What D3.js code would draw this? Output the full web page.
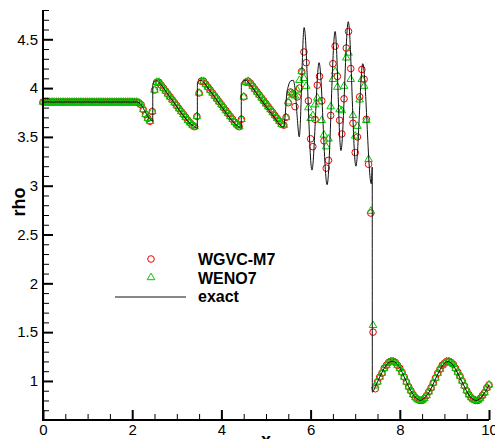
<!DOCTYPE html>
<html>
<head>
<meta charset="utf-8">
<script src="https://cdn.jsdelivr.net/npm/d3@7"></script>
<style>
  html, body { margin: 0; padding: 0; background: #fff; overflow: hidden; }
  svg { display: block; }
</style>
</head>
<body>
<svg id="chart" width="495" height="439"></svg>
<script>
// Density profile rho(x): reference solution plus two numerical schemes on a uniform 201-point grid.

const gridStart = 0;
const gridStep = 0.05;

// WGVC-M7 samples, x = 0, 0.05, ..., 10
const wgvcRho = [
  3.857,3.857,3.857,3.857,3.857,3.857,3.857,3.857,3.857,3.857,
  3.857,3.857,3.857,3.857,3.857,3.857,3.857,3.857,3.857,3.857,
  3.857,3.857,3.857,3.857,3.857,3.857,3.857,3.857,3.857,3.857,
  3.857,3.857,3.857,3.857,3.857,3.857,3.857,3.857,3.857,3.857,
  3.857,3.857,3.857,
  3.85,3.83,3.78,3.73,3.69,3.66,3.76,3.98,4.06,
  4.06,4.03,4.00,3.97,3.94,3.91,3.88,3.85,3.82,3.79,3.76,3.73,3.70,3.67,3.645,3.62,3.605,
  3.71,3.95,4.07,
  4.07,4.04,4.01,3.98,3.95,3.92,3.89,3.86,3.83,3.80,3.77,3.74,3.71,3.68,3.65,3.625,3.605,
  3.68,3.91,4.06,
  4.07,4.05,4.02,3.99,3.96,3.93,3.90,3.87,3.84,3.81,3.78,3.75,3.72,3.69,3.66,3.63,3.62,
  3.70,3.85,3.96,3.94,3.81,3.91,4.00,4.17,4.37,4.26,
  3.87,3.48,3.40,3.68,4.03,4.12,3.87,3.46,3.18,3.26,
  3.72,4.25,4.43,4.12,3.67,3.53,3.89,4.41,4.58,4.20,
  3.64,3.34,3.50,3.91,4.19,4.09,3.68,3.22,2.72,1.50,
  0.92,
  0.99,1.04,1.08,1.13,1.16,1.19,1.20,1.20,1.19,1.16,1.13,1.09,1.04,0.99,0.94,0.90,0.86,0.83,0.81,0.80,0.80,0.82,0.85,0.89,0.93,
  0.98,1.03,1.08,1.12,1.16,1.18,1.20,1.20,1.19,1.17,1.13,1.09,1.05,1.00,0.95,0.90,0.86,0.83,0.81,0.80,0.80,0.82,0.85,0.88,0.93,0.96
];

// WENO7 samples on the same grid
const weno7Rho = [
  3.857,3.857,3.857,3.857,3.857,3.857,3.857,3.857,3.857,3.857,
  3.857,3.857,3.857,3.857,3.857,3.857,3.857,3.857,3.857,3.857,
  3.857,3.857,3.857,3.857,3.857,3.857,3.857,3.857,3.857,3.857,
  3.857,3.857,3.857,3.857,3.857,3.857,3.857,3.857,3.857,3.857,
  3.857,3.857,3.857,
  3.85,3.83,3.78,3.73,3.69,3.66,3.76,3.98,4.06,
  4.06,4.03,4.00,3.97,3.94,3.91,3.88,3.85,3.82,3.79,3.76,3.73,3.70,3.67,3.645,3.62,3.605,
  3.71,3.95,4.07,
  4.07,4.04,4.01,3.98,3.95,3.92,3.89,3.86,3.83,3.80,3.77,3.74,3.71,3.68,3.65,3.625,3.605,
  3.68,3.91,4.06,
  4.07,4.05,4.02,3.99,3.96,3.93,3.90,3.87,3.84,3.81,3.78,3.75,3.72,3.69,3.66,3.63,3.62,
  3.70,3.86,3.95,3.93,3.92,3.98,4.08,4.17,4.10,4.02,
  3.80,3.69,3.72,3.83,3.90,3.86,3.67,3.52,3.40,3.48,
  3.81,4.09,4.17,4.01,3.78,3.77,4.02,4.31,4.36,4.09,
  3.72,3.51,3.61,3.88,4.09,4.02,3.67,3.27,2.74,1.57,
  0.95,
  0.99,1.04,1.08,1.13,1.16,1.19,1.20,1.20,1.19,1.16,1.13,1.09,1.04,0.99,0.94,0.90,0.86,0.83,0.81,0.80,0.80,0.82,0.85,0.89,0.93,
  0.98,1.03,1.08,1.12,1.16,1.18,1.20,1.20,1.19,1.17,1.13,1.09,1.05,1.00,0.95,0.90,0.86,0.83,0.81,0.80,0.80,0.82,0.85,0.88,0.93,0.96
];

// Reference ("exact") solution, knot points
const exactX = [
  0, 2.10, 2.20, 2.30, 2.38, 2.44, 2.46, 2.462, 2.50, 2.55, 2.62, 2.75, 3.00, 3.25, 3.38, 3.46,
  3.462, 3.50, 3.55, 3.62, 3.75, 4.00, 4.25, 4.37, 4.445,
  4.447, 4.50, 4.55, 4.62, 4.75, 5.00, 5.20, 5.32, 5.39,
  5.43, 5.46, 5.50, 5.56, 5.61, 5.66, 5.70, 5.745,
  5.855, 6.03, 6.19, 6.37, 6.55, 6.68, 6.845, 7.015, 7.17, 7.36, 7.382, 7.384,
  7.45, 7.55, 7.65, 7.73, 7.83, 7.93, 8.01, 8.10, 8.20, 8.30, 8.38, 8.46, 8.54, 8.62, 8.72,
  8.82, 8.91, 9.00, 9.08, 9.16, 9.25, 9.34, 9.44, 9.53, 9.62, 9.71, 9.80, 9.89, 10.0
];
const exactRho = [
  3.857, 3.857, 3.83, 3.75, 3.69, 3.665, 3.66, 4.04, 4.07, 4.075, 4.05, 3.97, 3.81, 3.66, 3.61, 3.59,
  4.05, 4.075, 4.08, 4.05, 3.97, 3.81, 3.66, 3.61, 3.59,
  4.05, 4.075, 4.08, 4.05, 3.97, 3.81, 3.69, 3.62, 3.60,
  3.72, 3.92, 4.02, 4.075, 4.08, 3.95, 3.70, 3.50,
  4.62, 3.16, 4.26, 3.01, 4.58, 3.36, 4.68, 3.20, 4.25, 3.02, 3.19, 0.885,
  0.94, 1.04, 1.13, 1.18, 1.20, 1.18, 1.13, 1.04, 0.94, 0.86, 0.82, 0.80, 0.82, 0.86, 0.94,
  1.04, 1.12, 1.18, 1.20, 1.18, 1.12, 1.04, 0.95, 0.87, 0.82, 0.80, 0.82, 0.87, 0.96
];

const xTicks = [0, 2, 4, 6, 8, 10];
const xMinorTicks = [0.5, 1, 1.5, 2.5, 3, 3.5, 4.5, 5, 5.5, 6.5, 7, 7.5, 8.5, 9, 9.5];
const yTicks = [1, 1.5, 2, 2.5, 3, 3.5, 4, 4.5];
const yMinorTicks = [0.7, 0.8, 0.9, 1.1, 1.2, 1.3, 1.4, 1.6, 1.7, 1.8, 1.9, 2.1, 2.2, 2.3, 2.4,
  2.6, 2.7, 2.8, 2.9, 3.1, 3.2, 3.3, 3.4, 3.6, 3.7, 3.8, 3.9, 4.1, 4.2, 4.3, 4.4, 4.6, 4.7, 4.8];

const seriesNames = ["WGVC-M7", "WENO7", "exact"];
const circleColor = "#f00000";
const triangleColor = "#00c800";

const svg = d3.select("#chart");
const font = "'Liberation Sans', Arial, sans-serif";

const x = d3.scaleLinear().domain([0, 10]).range([43, 489]);
const y = d3.scaleLinear().domain([0.6, 4.8]).range([420, 10]);

const gridX = wgvcRho.map((_, i) => gridStart + i * gridStep);

// --- markers ---
const gCircles = svg.append("g");
gCircles.selectAll("circle")
  .data(wgvcRho)
  .join("circle")
  .attr("cx", (d, i) => x(gridX[i]))
  .attr("cy", d => y(d))
  .attr("r", 3.3)
  .attr("fill", "none")
  .attr("stroke", circleColor)
  .attr("stroke-width", 1);

const tri = d3.symbol(d3.symbolTriangle, 25);
const gTri = svg.append("g");
gTri.selectAll("path")
  .data(weno7Rho)
  .join("path")
  .attr("transform", (d, i) => `translate(${x(gridX[i])},${y(d)})`)
  .attr("d", tri)
  .attr("fill", "none")
  .attr("stroke", triangleColor)
  .attr("stroke-width", 1);

// --- exact line ---
const line = d3.line()
  .x(d => x(d[0]))
  .y(d => y(d[1]))
  .curve(d3.curveMonotoneX);
svg.append("path")
  .datum(exactX.map((v, i) => [v, exactRho[i]]))
  .attr("d", line)
  .attr("fill", "none")
  .attr("stroke", "#111")
  .attr("stroke-width", 1);

// --- axes ---
function styleAxis(g, width) {
  g.select(".domain").remove();
  g.selectAll(".tick line").attr("stroke", "#000").attr("stroke-width", width);
  g.selectAll("text").attr("font-family", font).attr("font-size", 15).attr("fill", "#000");
}

svg.append("g")
  .attr("transform", "translate(43,0)")
  .call(d3.axisLeft(y).tickValues(yMinorTicks).tickSize(-6).tickFormat(""))
  .call(g => styleAxis(g, 1));
svg.append("g")
  .attr("transform", "translate(43,0)")
  .call(d3.axisLeft(y).tickValues(yTicks).tickSize(-10).tickPadding(5).tickFormat(d3.format("")))
  .call(g => styleAxis(g, 2));

svg.append("g")
  .attr("transform", "translate(0,420)")
  .call(d3.axisBottom(x).tickValues(xMinorTicks).tickSize(-6).tickFormat(""))
  .call(g => styleAxis(g, 1));
svg.append("g")
  .attr("transform", "translate(0,420)")
  .call(d3.axisBottom(x).tickValues(xTicks).tickSize(-10).tickPadding(4).tickFormat(d3.format("")))
  .call(g => styleAxis(g, 2));

svg.append("line").attr("x1", 43).attr("x2", 43).attr("y1", 10).attr("y2", 421)
  .attr("stroke", "#000").attr("stroke-width", 2);
svg.append("line").attr("x1", 42).attr("x2", 489).attr("y1", 420).attr("y2", 420)
  .attr("stroke", "#000").attr("stroke-width", 2);

// --- axis titles ---
svg.append("text")
  .attr("x", 266).attr("y", 446)
  .attr("text-anchor", "middle")
  .attr("font-family", font).attr("font-weight", "bold").attr("font-size", 18)
  .text("x");
svg.append("text")
  .attr("transform", "translate(25,202) rotate(-90)")
  .attr("text-anchor", "middle")
  .attr("font-family", font).attr("font-weight", "bold").attr("font-size", 18)
  .text("rho");

// --- legend ---
const legend = svg.append("g");
legend.append("circle").attr("cx", 151).attr("cy", 259).attr("r", 3.3)
  .attr("fill", "none").attr("stroke", circleColor).attr("stroke-width", 1);
legend.append("path").attr("transform", "translate(151,277.5)").attr("d", tri)
  .attr("fill", "none").attr("stroke", triangleColor).attr("stroke-width", 1);
legend.append("line").attr("x1", 115).attr("x2", 186).attr("y1", 297).attr("y2", 297)
  .attr("stroke", "#111").attr("stroke-width", 1);
const legendY = [265, 283.5, 302];
legend.selectAll("text")
  .data(seriesNames)
  .join("text")
  .attr("x", 198)
  .attr("y", (d, i) => legendY[i])
  .attr("font-family", font).attr("font-weight", "bold").attr("font-size", 16)
  .attr("fill", "#000")
  .text(d => d);
</script>
</body>
</html>
